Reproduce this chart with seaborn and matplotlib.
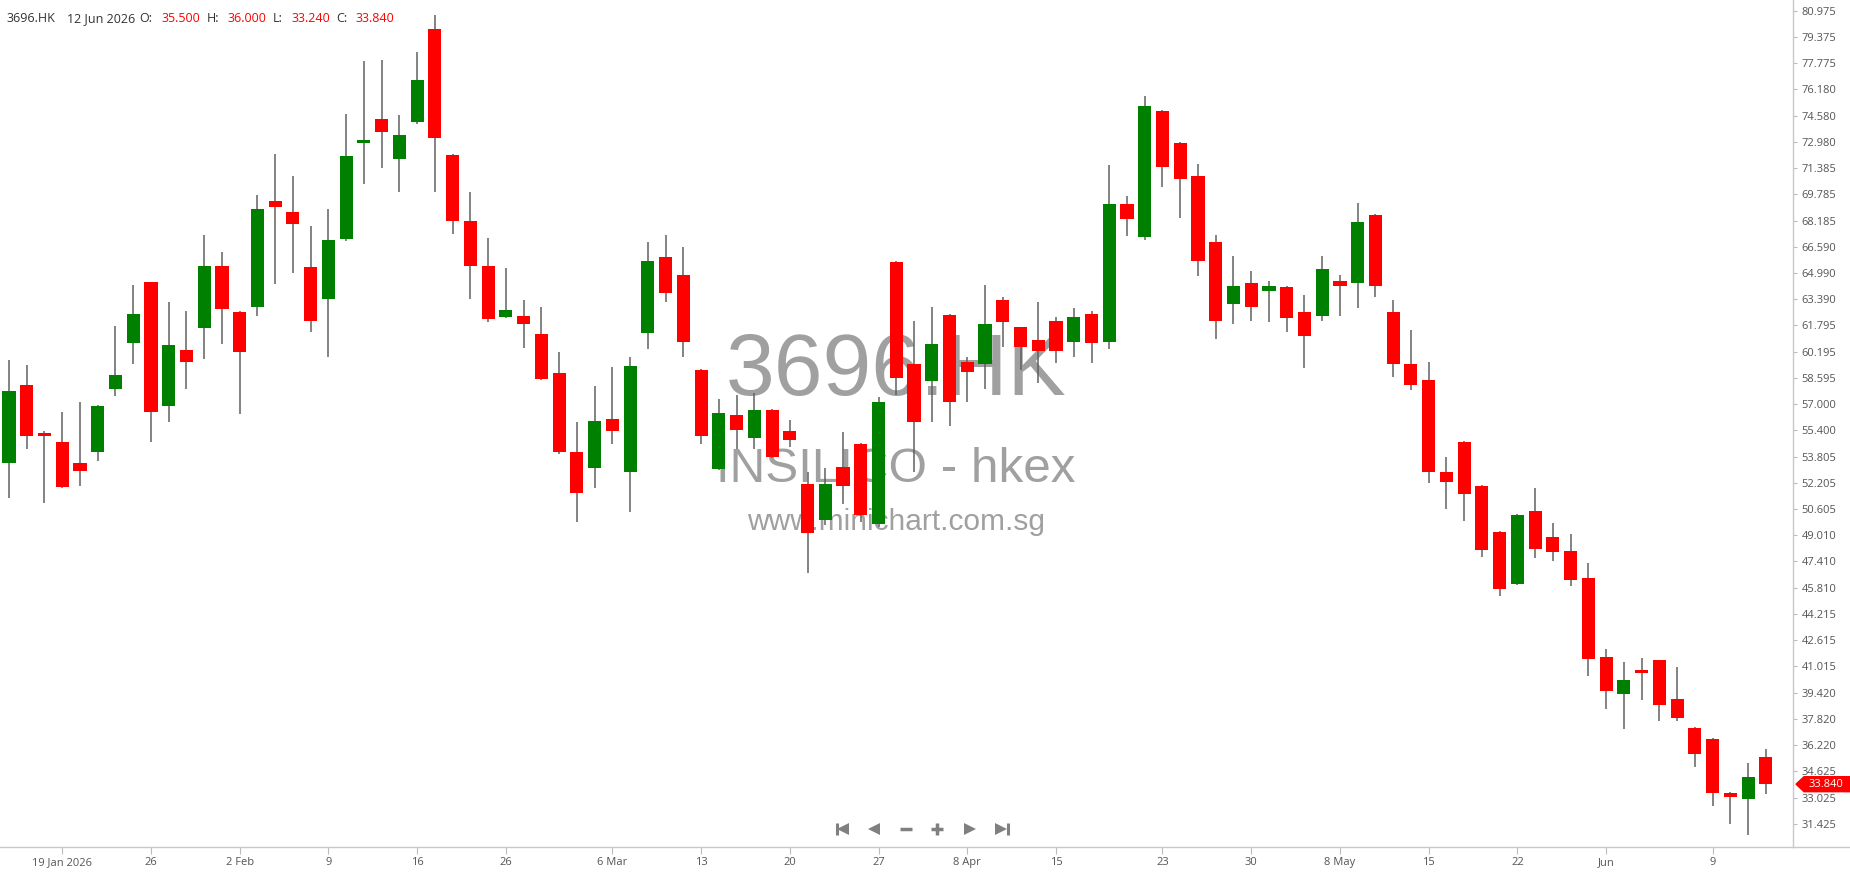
import numpy as np
import pandas as pd
import matplotlib
matplotlib.use("Agg")
import matplotlib.pyplot as plt
from matplotlib.patches import Polygon
import seaborn as sns

# ==================================================
# 1. Data
# ==================================================
ticker = "3696.HK"
last_date = "12 Jun 2026"
start_day = "2026-01-14"
end_day = "2026-06-12"
holidays = ["2026-02-17", "2026-02-18", "2026-02-19", "2026-04-03",
            "2026-04-06", "2026-04-07", "2026-05-01", "2026-05-25"]

opens = [53.39, 58.17, 55.22, 54.67, 53.39, 54.08, 57.92, 60.73, 64.42, 56.91,
         60.32, 61.62, 65.40, 62.59, 62.94, 69.36, 68.69, 65.34, 63.39, 67.04,
         72.89, 74.40, 71.92, 74.19, 79.86, 72.18, 68.14, 65.40, 62.33, 62.37,
         61.29, 58.88, 54.06, 53.09, 56.07, 52.86, 61.31, 65.95, 64.87, 59.08,
         53.05, 56.34, 54.96, 56.66, 55.36, 52.11, 49.92, 53.15, 54.59, 49.68,
         65.64, 59.47, 58.43, 62.45, 59.55, 59.43, 63.37, 61.68, 60.91, 62.05,
         60.79, 62.49, 60.79, 69.22, 67.18, 74.84, 72.89, 70.88, 66.86, 63.08,
         64.36, 63.91, 64.12, 62.59, 62.39, 64.50, 64.38, 68.55, 62.59, 59.47,
         58.49, 52.84, 54.67, 52.01, 49.19, 46.04, 50.50, 48.90, 48.07, 46.38,
         41.59, 39.35, 40.77, 41.38, 39.03, 37.26, 36.59, 33.30, 32.93, 35.50]
highs = [59.69, 59.38, 55.36, 56.50, 57.11, 56.95, 61.76, 64.28, 64.46, 63.20,
         62.68, 67.31, 66.25, 62.65, 69.74, 72.26, 70.90, 67.86, 68.91, 74.70,
         77.89, 77.97, 74.62, 78.44, 80.70, 72.25, 69.91, 67.10, 65.28, 63.37,
         62.90, 60.16, 55.89, 58.10, 59.26, 59.85, 66.86, 67.31, 66.55, 59.12,
         57.33, 57.56, 57.66, 56.70, 56.03, 52.84, 53.09, 55.28, 54.62, 57.46,
         65.70, 62.07, 62.90, 62.50, 59.89, 64.26, 63.51, 61.72, 63.20, 62.33,
         62.84, 62.65, 71.57, 69.68, 75.78, 74.92, 72.95, 71.65, 67.33, 66.03,
         65.11, 64.50, 64.20, 63.67, 66.03, 64.89, 69.24, 68.60, 63.35, 61.54,
         59.55, 53.78, 54.75, 52.07, 49.27, 50.30, 51.89, 49.75, 49.06, 47.31,
         42.07, 41.30, 41.52, 41.42, 41.00, 37.30, 36.65, 33.36, 35.12, 36.00]
lows = [51.26, 54.25, 50.96, 51.90, 52.03, 53.56, 57.52, 59.43, 54.69, 55.93,
        57.90, 59.73, 60.64, 56.38, 62.39, 64.30, 64.97, 61.40, 59.87, 66.95,
        70.39, 71.37, 69.91, 74.10, 69.91, 67.35, 63.39, 62.00, 62.25, 60.40,
        58.47, 53.94, 49.84, 51.87, 54.55, 50.45, 60.34, 63.22, 59.85, 54.55,
        52.98, 54.27, 54.27, 53.70, 54.41, 46.69, 49.63, 50.89, 49.84, 49.53,
        57.56, 52.84, 55.93, 55.69, 57.15, 57.90, 60.50, 59.08, 58.31, 59.53,
        59.89, 59.49, 60.34, 67.27, 67.02, 70.21, 68.32, 64.81, 60.95, 61.86,
        62.09, 61.99, 61.38, 59.18, 62.09, 62.39, 62.84, 63.51, 58.67, 57.88,
        52.17, 50.59, 49.90, 47.70, 45.31, 45.95, 47.62, 47.42, 45.89, 40.41,
        38.42, 37.22, 38.94, 37.66, 37.66, 34.86, 32.48, 31.43, 30.76, 33.24]
closes = [57.80, 55.08, 55.08, 51.97, 52.95, 56.89, 58.78, 62.51, 56.52, 60.62,
          59.57, 65.40, 62.78, 60.20, 68.91, 69.01, 67.96, 62.09, 67.02, 72.10,
          73.10, 73.58, 73.40, 76.75, 73.20, 68.16, 65.42, 62.17, 62.74, 61.88,
          58.51, 54.08, 51.58, 55.97, 55.38, 59.32, 65.72, 63.75, 60.79, 55.08,
          56.48, 55.40, 56.66, 53.80, 54.79, 49.17, 52.15, 51.99, 50.22, 57.11,
          58.57, 55.93, 60.69, 57.15, 58.98, 61.90, 62.03, 60.50, 60.26, 60.26,
          62.29, 60.72, 69.22, 68.26, 75.15, 71.43, 70.70, 65.72, 62.09, 64.18,
          62.90, 64.18, 62.23, 61.15, 65.26, 64.22, 68.08, 64.20, 59.43, 58.15,
          52.86, 52.28, 51.50, 48.09, 45.73, 50.26, 48.17, 48.01, 46.30, 41.48,
          39.49, 40.16, 40.63, 38.64, 37.87, 35.67, 33.32, 33.03, 34.29, 33.84]

tick_dates = ["2026-01-19", "2026-01-26", "2026-02-02", "2026-02-09", "2026-02-16",
              "2026-02-26", "2026-03-06", "2026-03-13", "2026-03-20", "2026-03-27",
              "2026-04-08", "2026-04-15", "2026-04-23", "2026-04-30", "2026-05-08",
              "2026-05-15", "2026-05-22", "2026-06-01", "2026-06-09"]
tick_labels = ["19 Jan 2026", "26", "2 Feb", "9", "16", "26", "6 Mar", "13", "20",
               "27", "8 Apr", "15", "23", "30", "8 May", "15", "22", "Jun", "9"]

price_ticks = [80.975, 79.375, 77.775, 76.180, 74.580, 72.980, 71.385, 69.785,
               68.185, 66.590, 64.990, 63.390, 61.795, 60.195, 58.595, 57.000,
               55.400, 53.805, 52.205, 50.605, 49.010, 47.410, 45.810, 44.215,
               42.615, 41.015, 39.420, 37.820, 36.220, 34.625, 33.025, 31.425]

# ==================================================
# 2. Build frame
# ==================================================
days = pd.bdate_range(start_day, end_day)
days = days[~days.isin(pd.to_datetime(holidays))]
df = pd.DataFrame({"date": days, "open": opens, "high": highs,
                   "low": lows, "close": closes})
df["x"] = np.arange(len(df))
df["up"] = df["close"] >= df["open"]
tick_pos = [days.get_loc(pd.Timestamp(d)) for d in tick_dates]

# ==================================================
# 3. Plot
# ==================================================
sns.set_theme(style="white")
plt.rcParams["font.family"] = ["Open Sans", "DejaVu Sans"]

W, H = 1850, 874
fig = plt.figure(figsize=(W / 100, H / 100), dpi=100)
ax = fig.add_axes([0, 27 / H, 1793 / W, 847 / H])

GREEN, RED, WICK = "#008000", "#ff0000", "#606060"

# watermark behind candles
for txt, yb, size in [(ticker, 395, 63), ("INSILICO - hkex", 482, 35.6),
                      ("www.minichart.com.sg", 530, 21.5)]:
    fig.text(896 / W, 1 - yb / H, txt, ha="center", va="baseline",
             fontsize=size, color="#a0a0a0", family="Liberation Sans", zorder=0)
ax.set_facecolor("none")
ax.set_zorder(1)

ax.vlines(df["x"], df["low"], df["high"], color=WICK, lw=1.1, zorder=2)
body = (df["close"] - df["open"]).abs().clip(lower=0.12)
ax.bar(df["x"], body, bottom=df[["open", "close"]].min(axis=1), width=0.74,
       color=np.where(df["up"], GREEN, RED), linewidth=0, zorder=3)

ax.set_xlim(-0.507, 100.53)
ax.set_ylim(30.01, 81.627)

ax.yaxis.tick_right()
ax.set_yticks(price_ticks)
ax.set_yticklabels([f"{p:.3f}" for p in price_ticks])
ax.set_xticks(tick_pos)
ax.set_xticklabels(tick_labels)
ax.tick_params(axis="y", direction="out", length=3, width=0.8, color="#bbbbbb",
               pad=3, labelsize=8, labelcolor="#555555", right=True, left=False)
ax.tick_params(axis="x", direction="out", length=5, width=0.8, color="#bbbbbb",
               pad=2, labelsize=8, labelcolor="#555555", bottom=True)

for side in ["top", "left", "bottom"]:
    ax.spines[side].set_visible(False)
ax.spines["right"].set_color("#c8c8c8")
ax.spines["right"].set_linewidth(1)
fig.add_artist(plt.Line2D([0, 1], [27 / H, 27 / H], color="#c8c8c8", lw=1))
ax.grid(False)

# header line
hy = 1 - 21.7 / H
parts = [(6.7, ticker, "#333333"), (66.7, last_date, "#333333"),
         (139, "O:", "#333333"), (161, f"{opens[-1]:.3f}", RED),
         (207, "H:", "#333333"), (228, f"{highs[-1]:.3f}", RED),
         (273, "L:", "#333333"), (291, f"{lows[-1]:.3f}", RED),
         (336, "C:", "#333333"), (356, f"{closes[-1]:.3f}", RED)]
for px, txt, col in parts:
    fig.text(px / W, hy, txt, ha="left", va="baseline", fontsize=9, color=col)

# navigation icons
NAV = "#808080"
ny = 1 - 829 / H
def icon(px, marker, size, mew=0):
    fig.add_artist(plt.Line2D([px / W], [ny], marker=marker, markersize=size,
                              color=NAV, markeredgewidth=mew, linestyle="none"))
icon(836.5, "|", 8, 2.2)
icon(843, "<", 8)
icon(874, "<", 8)
icon(906, "_", 9, 2.5)
icon(937, "+", 9, 2.5)
icon(970, ">", 8)
icon(1001, ">", 8)
icon(1007.5, "|", 8, 2.2)

# last price marker
yc = 10.7 + (80.975 - closes[-1]) * 16.41
pts = [(1796, yc), (1804, yc - 7.5), (1850, yc - 7.5), (1850, yc + 7.5), (1804, yc + 7.5)]
fig.add_artist(Polygon([(x / W, 1 - y / H) for x, y in pts], closed=True,
                       transform=fig.transFigure, color=RED, zorder=5))
fig.text(1826 / W, 1 - yc / H, f"{closes[-1]:.3f}", ha="center", va="center",
         fontsize=8, color="white", zorder=6)

plt.savefig("out.png", dpi=100)
plt.close()
